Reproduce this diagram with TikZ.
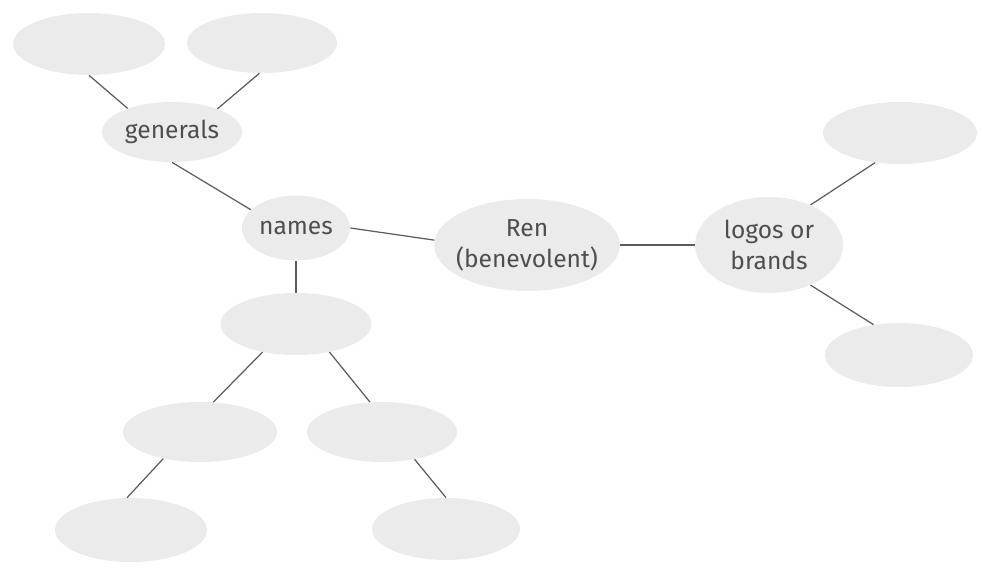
\documentclass[tikz,border=0pt]{standalone}
\usepackage{fontspec}
\setmainfont{Fira Sans}
\usetikzlibrary{shapes.geometric}
\definecolor{bubblegrey}{HTML}{EBEBEB}
\definecolor{inkgrey}{HTML}{4E4E4E}
\definecolor{linegrey}{HTML}{5C5C5C}
\tikzset{
  bubble/.style={ellipse, fill=bubblegrey, inner sep=0pt, text=inkgrey, align=center,
    font=\fontsize{14}{17.5}\selectfont},
  link/.style={draw=linegrey, line width=0.7pt},
}
\begin{document}
\begin{tikzpicture}[x=0.02cm,y=-0.02cm]
\useasboundingbox (0,0) rectangle (982,570);
\node[bubble, minimum width=3.04cm, minimum height=1.24cm] (topleft) at (89,44) {};
\node[bubble, minimum width=3.00cm, minimum height=1.20cm] (topmid) at (262,43) {};
\node[bubble, minimum width=2.80cm, minimum height=1.20cm] (generals) at (172,132) {generals};
\node[bubble, minimum width=2.16cm, minimum height=1.30cm] (names) at (296,228) {names};
\node[bubble, inner xsep=-3pt, minimum width=3.70cm, minimum height=1.84cm] (ren) at (527,245) {Ren\\(benevolent)};
\node[bubble, minimum width=2.96cm, minimum height=1.92cm] (logos) at (769,245) {logos or\\brands};
\node[bubble, minimum width=3.08cm, minimum height=1.24cm] (topright) at (900,133) {};
\node[bubble, minimum width=2.96cm, minimum height=1.28cm] (lowright) at (899,355) {};
\node[bubble, minimum width=3.02cm, minimum height=1.24cm] (below) at (296,324) {};
\node[bubble, minimum width=3.08cm, minimum height=1.20cm] (midleft) at (200,432) {};
\node[bubble, minimum width=3.00cm, minimum height=1.20cm] (midright) at (382,432) {};
\node[bubble, minimum width=3.04cm, minimum height=1.28cm] (lowleft) at (131,530) {};
\node[bubble, minimum width=2.96cm, minimum height=1.24cm] (lowmid) at (446,529) {};
\draw[link] (topleft.south) -- (generals.152);
\draw[link] (topmid.265) -- (generals.27);
\draw[link] (generals.south) -- (names.158);
\draw[link] (names.east) -- (ren.177);
\draw[link] (ren.east) -- (logos.west);
\draw[link] (logos.44) -- (topright.230);
\draw[link] (logos.-44) -- (lowright.130);
\draw[link] (names.south) -- (below.north);
\draw[link] (below.220) -- (midleft.66);
\draw[link] (below.-40) -- (midright.112);
\draw[link] (midleft.216) -- (lowleft.97);
\draw[link] (midright.-40) -- (lowmid.north);
\end{tikzpicture}
\end{document}
